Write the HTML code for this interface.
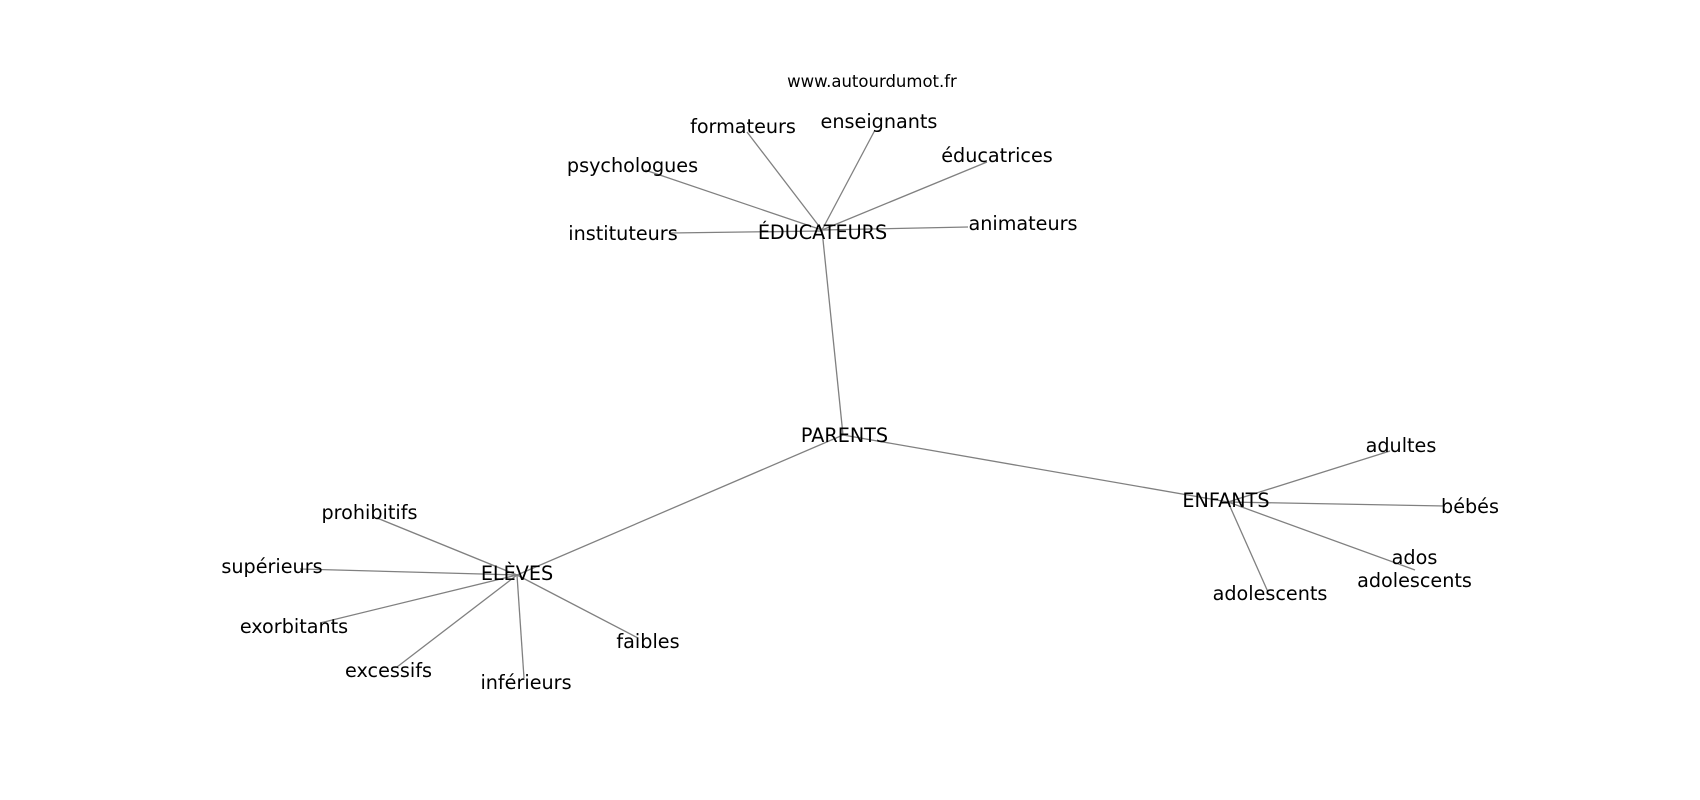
<!DOCTYPE html>
<html>
<head>
<meta charset="utf-8">
<style>
  html, body { margin: 0; padding: 0; background: #ffffff; }
  body { width: 1700px; height: 800px; overflow: hidden; }
  svg { display: block; }
  text { font-family: "DejaVu Sans", "Liberation Sans", sans-serif; fill: #000; }
  .lbl { font-size: 19.2px; text-anchor: middle; }
  .ttl { font-size: 16.5px; text-anchor: middle; }
  line { stroke: #808080; stroke-width: 1.3; }
</style>
</head>
<body>
<svg width="1700" height="800" viewBox="0 0 1700 800" xmlns="http://www.w3.org/2000/svg">
  <rect x="0" y="0" width="1700" height="800" fill="#ffffff"/>
  <!-- edges -->
  <g>
    <line x1="822" y1="230" x2="747" y2="132"/>
    <line x1="822" y1="230" x2="875" y2="130"/>
    <line x1="822" y1="230" x2="987" y2="162"/>
    <line x1="822" y1="230" x2="645" y2="170"/>
    <line x1="822" y1="231" x2="670" y2="233"/>
    <line x1="822" y1="230" x2="968" y2="227"/>
    <line x1="822" y1="230" x2="843" y2="435"/>

    <line x1="843" y1="435" x2="517" y2="575"/>
    <line x1="843" y1="435" x2="1228" y2="502"/>

    <line x1="517" y1="575" x2="377" y2="518"/>
    <line x1="517" y1="575" x2="300" y2="569"/>
    <line x1="517" y1="575" x2="320" y2="623"/>
    <line x1="517" y1="575" x2="397" y2="667"/>
    <line x1="517" y1="575" x2="524" y2="678"/>
    <line x1="517" y1="575" x2="638" y2="638"/>

    <line x1="1228" y1="502" x2="1390" y2="451"/>
    <line x1="1228" y1="502" x2="1445" y2="506"/>
    <line x1="1228" y1="502" x2="1415" y2="570"/>
    <line x1="1228" y1="502" x2="1268" y2="592"/>
  </g>

  <!-- title -->
  <text class="ttl" x="872" y="87">www.autourdumot.fr</text>

  <!-- labels -->
  <text class="lbl" x="743" y="133">formateurs</text>
  <text class="lbl" x="879" y="128">enseignants</text>
  <text class="lbl" x="997" y="162">éducatrices</text>
  <text class="lbl" x="632.5" y="172">psychologues</text>
  <text class="lbl" x="623" y="240">instituteurs</text>
  <text class="lbl" x="1023" y="230">animateurs</text>
  <text class="lbl" x="822.5" y="239">ÉDUCATEURS</text>

  <text class="lbl" x="844.5" y="442">PARENTS</text>

  <text class="lbl" x="1226" y="507">ENFANTS</text>
  <text class="lbl" x="1401" y="452">adultes</text>
  <text class="lbl" x="1470" y="513">bébés</text>
  <text class="lbl" x="1414.5" y="564">ados</text>
  <text class="lbl" x="1414.5" y="587">adolescents</text>
  <text class="lbl" x="1270" y="600">adolescents</text>

  <text class="lbl" x="517" y="580">ELÈVES</text>
  <text class="lbl" x="369.5" y="519">prohibitifs</text>
  <text class="lbl" x="272" y="573">supérieurs</text>
  <text class="lbl" x="294" y="633">exorbitants</text>
  <text class="lbl" x="388.5" y="677">excessifs</text>
  <text class="lbl" x="526" y="689">inférieurs</text>
  <text class="lbl" x="648" y="648">faibles</text>
</svg>
</body>
</html>
